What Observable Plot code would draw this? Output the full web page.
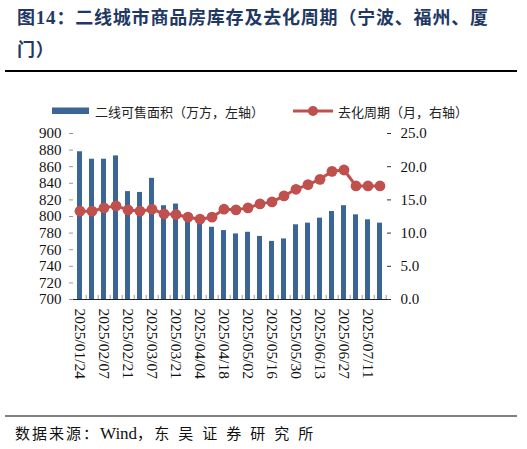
<!DOCTYPE html>
<html><head><meta charset="utf-8">
<script src="https://cdn.jsdelivr.net/npm/d3@7"></script>
<script src="https://cdn.jsdelivr.net/npm/@observablehq/plot@0.6"></script>
<style>
body{margin:0;width:527px;height:449px;position:relative;background:#fff;overflow:hidden;font-family:"Noto Sans CJK SC",sans-serif;}
#title{position:absolute;left:17px;top:1px;font-weight:bold;color:#1f3864;font-size:18px;line-height:31px;letter-spacing:0.8px;white-space:nowrap;}
#title .num{font-family:"Liberation Serif",serif;font-size:19px;}
.rule{position:absolute;left:5px;width:512px;}
#legend{position:absolute;left:0;top:100px;}
#chart{position:absolute;left:0;top:120px;}
#chart svg text{font-family:"Liberation Serif",serif !important;}
#source{position:absolute;left:15px;top:422px;font-size:15px;color:#111;white-space:nowrap;letter-spacing:2px;}
#source .en{font-family:"Liberation Serif",serif;font-size:17px;letter-spacing:0;}
#source .sp{letter-spacing:9px;}
</style></head>
<body>
<div id="title">图<span class="num">14</span>：二线城市商品房库存及去化周期（宁波、福州、厦<br>门）</div>
<div class="rule" style="top:70px;height:2px;background:#000"></div>
<svg id="legend" width="527" height="22">
  <rect x="52" y="7.5" width="37" height="6.5" fill="#3b6497"></rect>
  <text x="95" y="11" dominant-baseline="central" font-size="13" fill="#222" font-family="Noto Sans CJK SC">二线可售面积（万方，左轴）</text>
  <line x1="293" x2="333" y1="11" y2="11" stroke="#c0504d" stroke-width="3"></line>
  <circle cx="313" cy="11" r="5" fill="#c0504d"></circle>
  <text x="338" y="11" dominant-baseline="central" font-size="13" fill="#222" font-family="Noto Sans CJK SC">去化周期（月，右轴）</text>
</svg>
<div id="chart"></div>
<div class="rule" style="top:415px;height:1.5px;background:#808080"></div>
<div id="source">数据来源：<span class="en">Wind</span>，<span class="sp">东吴证券研究所</span></div>
<script>
const dates = ["2025/01/24","2025/01/31","2025/02/07","2025/02/14","2025/02/21","2025/02/28","2025/03/07","2025/03/14","2025/03/21","2025/03/28","2025/04/04","2025/04/11","2025/04/18","2025/04/25","2025/05/02","2025/05/09","2025/05/16","2025/05/23","2025/05/30","2025/06/06","2025/06/13","2025/06/20","2025/06/27","2025/07/04","2025/07/11","2025/07/18"];
const area = [878,869,869,873,830,829,846,813,815,797,793,787,783,779,781,776,770,773,790,792,798,806,813,802,796,792];
const cycle = [13.3,13.3,13.8,14.1,13.5,13.3,13.6,12.9,12.8,12.4,12.1,12.4,13.6,13.5,13.8,14.4,14.7,15.6,16.6,17.3,18.1,19.3,19.5,17.1,17.1,17.1];
const labelDates = ["2025/01/24","2025/02/07","2025/02/21","2025/03/07","2025/03/21","2025/04/04","2025/04/18","2025/05/02","2025/05/16","2025/05/30","2025/06/13","2025/06/27","2025/07/11"];
const leftTicks = [700,720,740,760,780,800,820,840,860,880,900];
const rightTicks = [0,5,10,15,20,25];

const barColor = "#3b6497", red = "#c0504d";
const serif = "Liberation Serif";
const yMin = 700, yMax = 900, rMax = 25;
const toLeft = v => yMin + v * (yMax - yMin) / rMax;
const toRight = v => (v - yMin) * rMax / (yMax - yMin);
const data = dates.map((d, i) => ({date: d, area: area[i], cycle: cycle[i]}));
const W = 527, H = 290, mL = 69, mR = 137, mT = 13, mB = 111;
const step = (W - mL - mR) / dates.length;

const chart = Plot.plot({
  width: W, height: H, marginLeft: mL, marginRight: mR, marginTop: mT, marginBottom: mB,
  style: {fontFamily: "'Liberation Serif', serif", fontSize: "15px", color: "#111", background: "transparent", overflow: "visible"},
  x: {type: "band", domain: dates, paddingInner: 0.6, paddingOuter: 0.3},
  y: {domain: [yMin, yMax]},
  marks: [
    Plot.barY(data, {x: "date", y1: yMin, y2: "area", fill: barColor}),
    Plot.axisX({ticks: dates, tickSize: -4, tickFormat: () => "", dx: step / 2, stroke: "#999", label: null}),
    Plot.ruleY([yMin], {stroke: "#222", strokeWidth: 1.2}),
    Plot.axisY({anchor: "left", ticks: leftTicks, tickSize: -4, tickPadding: 12, line: true, stroke: "#999", fill: "#111", fontFamily: serif, fontSize: 15, label: null}),
    Plot.axisY({anchor: "right", ticks: rightTicks.map(toLeft), tickFormat: d => toRight(d).toFixed(1), tickSize: -4, tickPadding: 14, line: true, stroke: "#333", fill: "#111", fontFamily: serif, fontSize: 15, label: null}),
    Plot.axisX({ticks: labelDates, tickSize: 0, tickPadding: 9, tickRotate: 90, fontSize: 15.5, fontFamily: serif, fill: "#111", label: null}),
    Plot.line(data, {x: "date", y: d => toLeft(d.cycle), stroke: red, strokeWidth: 3}),
    Plot.dot(data, {x: "date", y: d => toLeft(d.cycle), r: 5.4, fill: red, stroke: "none"})
  ]
});
document.getElementById("chart").appendChild(chart);
</script>
</body></html>
